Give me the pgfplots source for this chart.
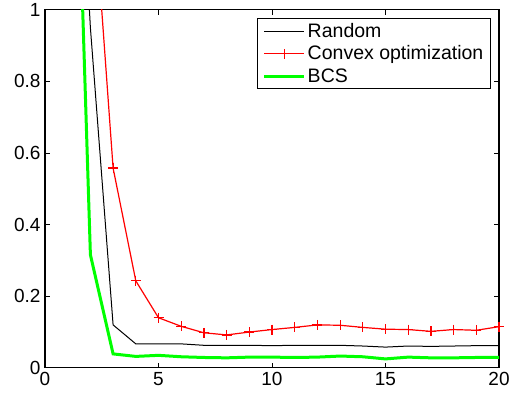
\documentclass[border=0pt]{standalone}
\usepackage{pgfplots}
\pgfplotsset{compat=1.18}
\usepackage{fontspec}
\setmainfont{Liberation Sans}
\definecolor{mgreen}{rgb}{0,1,0}
\begin{document}
\begin{tikzpicture}
\begin{axis}[
  scale only axis,
  width=454bp, height=358bp,
  xmin=0, xmax=20, ymin=0, ymax=1,
  xtick={0,5,10,15,20},
  ytick={0,0.2,0.4,0.6,0.8,1},
  yticklabels={0,0.2,0.4,0.6,0.8,1},
  /pgf/number format/assume math mode=true,
  tick align=inside,
  major tick length=5bp,
  tick style={line width=0.8bp, black},
  axis line style={line width=1.1bp},
  font=\fontsize{19bp}{23bp}\selectfont,
  xticklabel style={yshift=-1bp},
  yticklabel style={xshift=-1bp},
  legend style={at={(rel axis cs:0.982,0.978)}, anchor=north east,
    line width=1bp, fill=white, inner xsep=5bp, inner ysep=3bp,
    row sep=3bp, font=\fontsize{19.5bp}{23bp}\selectfont},
  legend cell align=left,
  legend image code/.code={\draw[#1] (0bp,0bp) -- (40bp,0bp);},
]
\addplot[black, line width=1bp] coordinates {
(1,2.1) (2,0.95) (3,0.12) (4,0.067) (5,0.067) (6,0.067) (7,0.063) (8,0.063) (9,0.063) (10,0.062)
(11,0.063) (12,0.063) (13,0.063) (14,0.061) (15,0.058) (16,0.061) (17,0.060) (18,0.061) (19,0.062) (20,0.062)};
\addlegendentry{Random}
\addplot[red, line width=1.2bp, mark=+, mark size=5bp, mark options={line width=1.2bp, red},
  legend image code/.code={\draw[red, line width=1.2bp] (0bp,0bp) -- (40bp,0bp) (20bp,-5bp) -- (20bp,5bp);}] coordinates {
(1,3.0) (2,1.44) (3,0.558) (4,0.243) (5,0.140) (6,0.116) (7,0.098) (8,0.092) (9,0.100) (10,0.107)
(11,0.113) (12,0.120) (13,0.119) (14,0.113) (15,0.108) (16,0.107) (17,0.102) (18,0.107) (19,0.105) (20,0.115)};
\addlegendentry{Convex optimization}
\addplot[mgreen, line width=3bp] coordinates {
(1,2.33) (2,0.316) (3,0.039) (4,0.032) (5,0.035) (6,0.031) (7,0.029) (8,0.028) (9,0.030) (10,0.030)
(11,0.029) (12,0.030) (13,0.033) (14,0.031) (15,0.025) (16,0.030) (17,0.028) (18,0.028) (19,0.029) (20,0.029)};
\addlegendentry{BCS}
\end{axis}
\path ([xshift=-45bp,yshift=-31.7bp]current axis.south west) rectangle ([xshift=17bp,yshift=7bp]current axis.north east);
\end{tikzpicture}
\end{document}
